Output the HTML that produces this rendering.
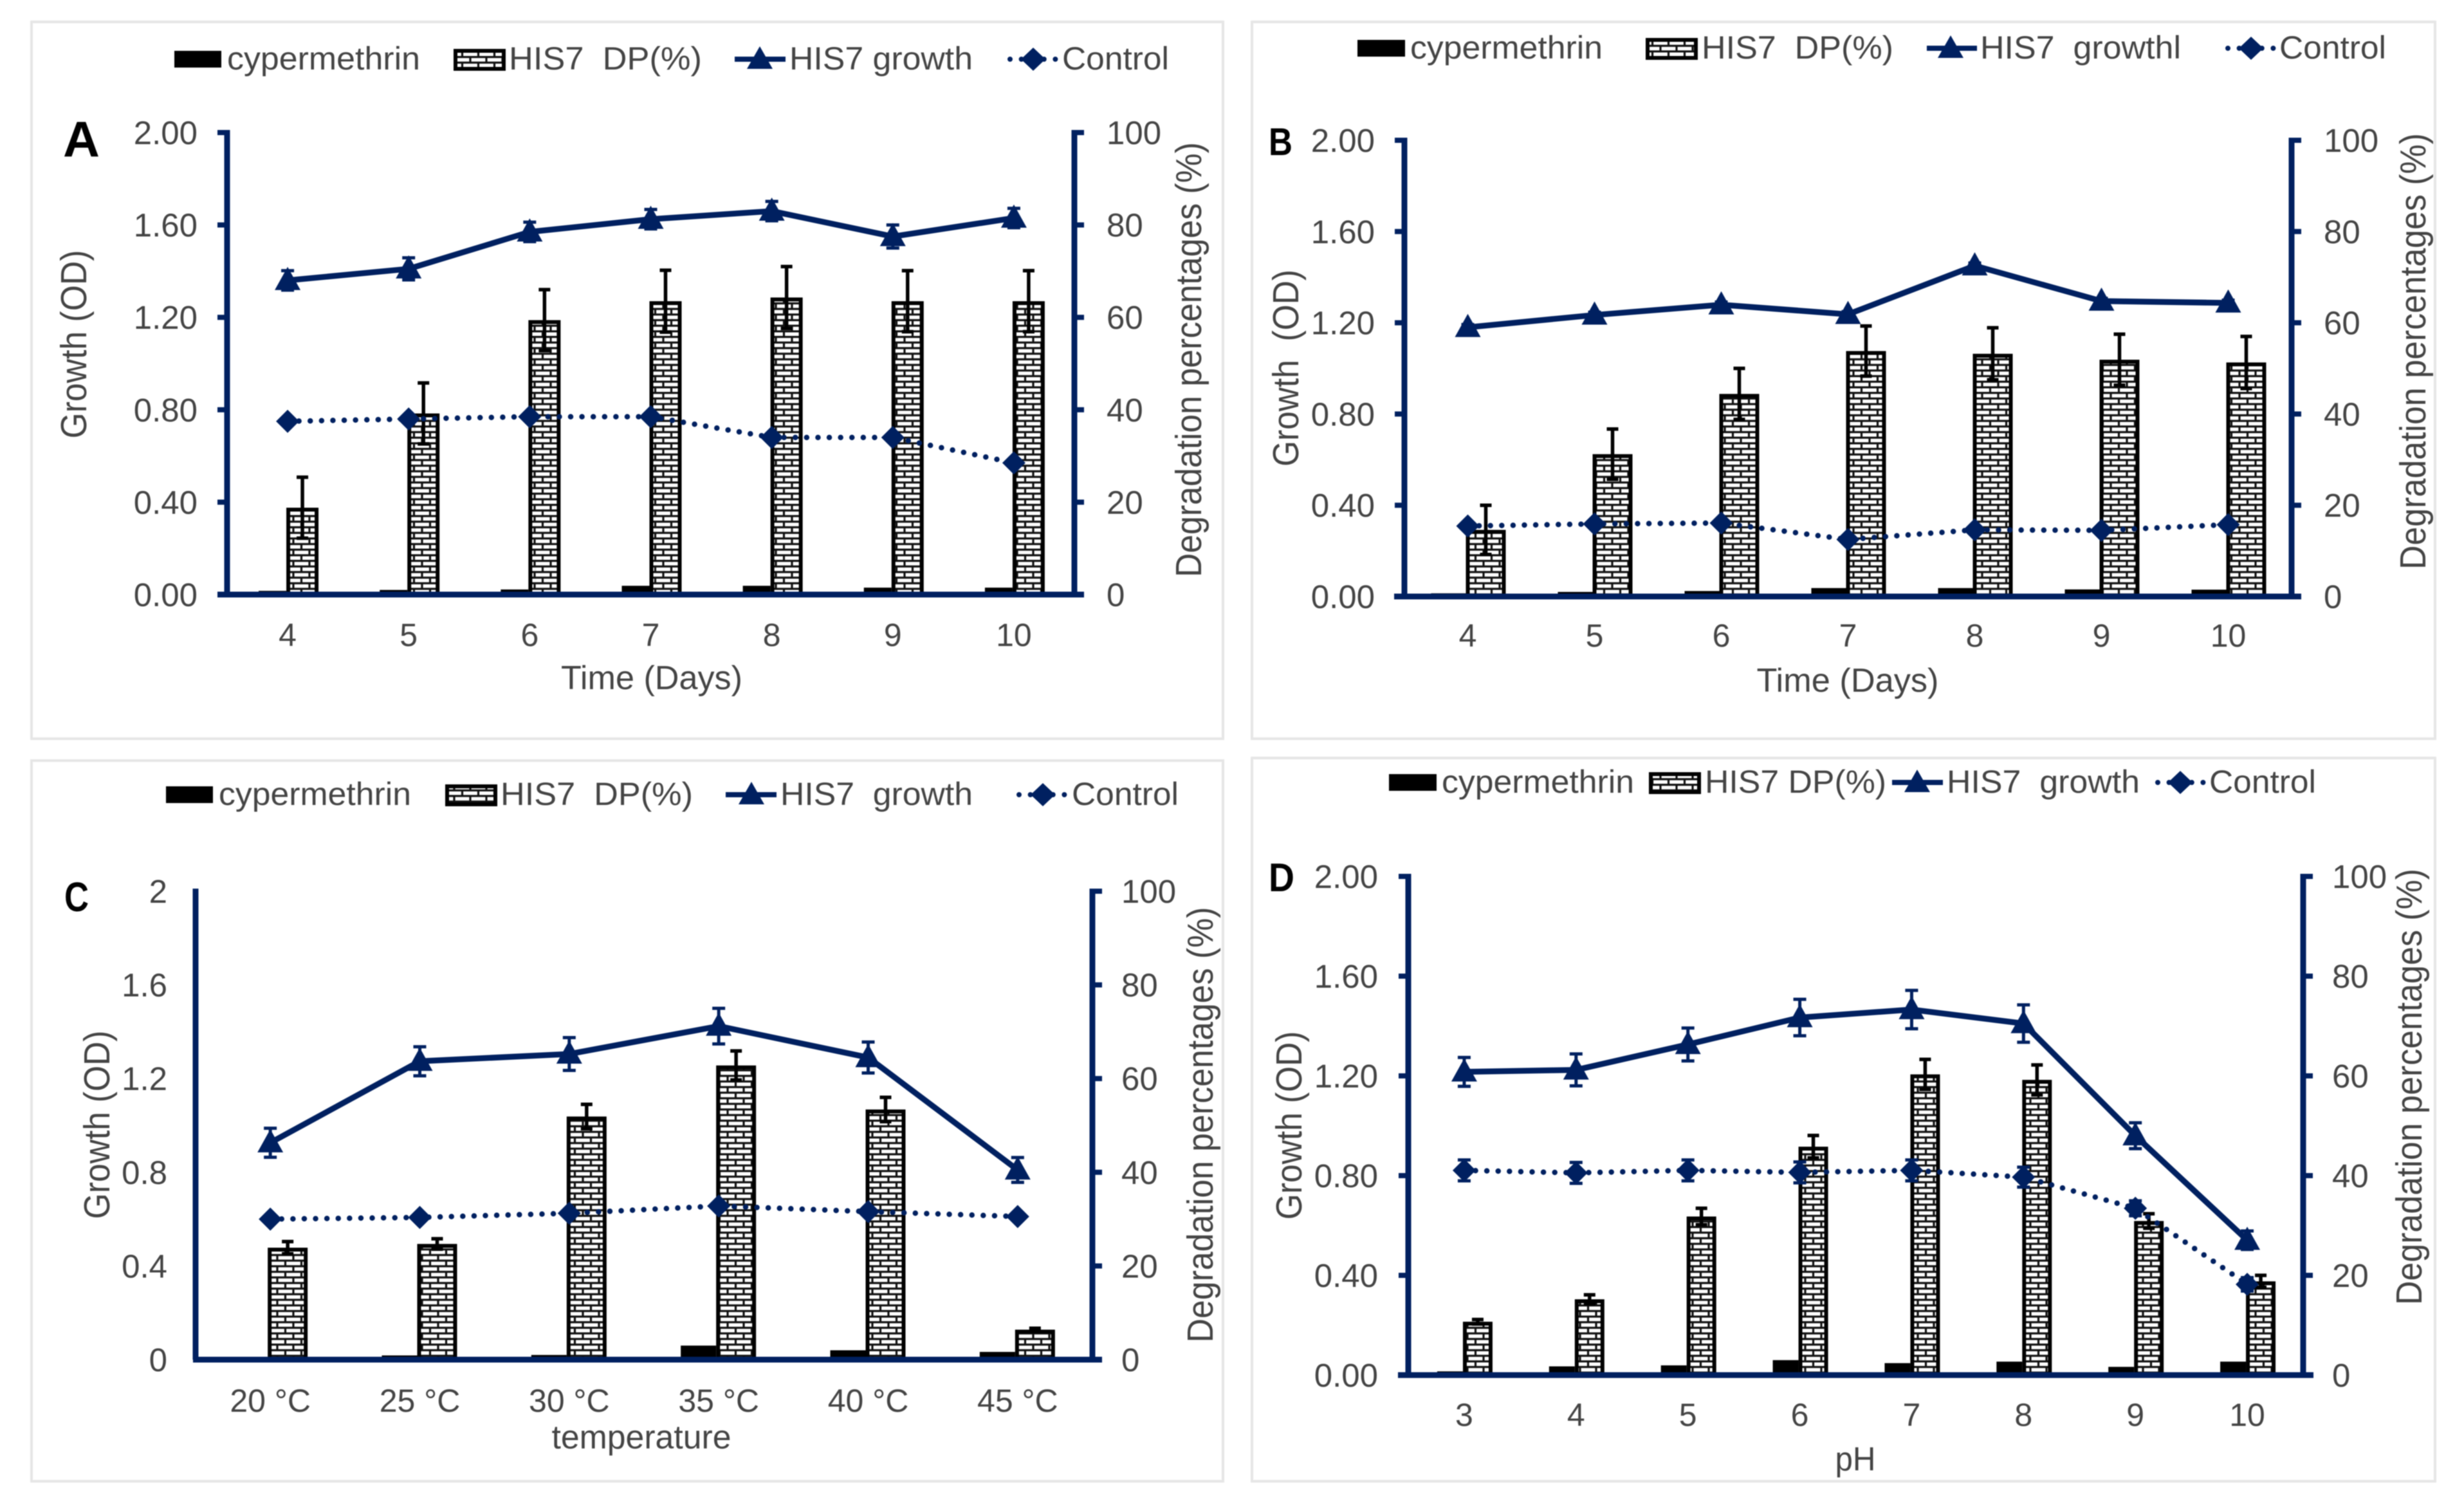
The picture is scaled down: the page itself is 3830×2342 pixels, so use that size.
<!DOCTYPE html>
<html lang="en">
<head>
<meta charset="utf-8">
<title>HIS7 cypermethrin degradation charts</title>
<style>
html,body{margin:0;padding:0;background:#fff;}
svg{display:block;filter:blur(0.8px);}
text{font-family:"Liberation Sans",sans-serif;fill:#444;white-space:pre;}
.leg{font-size:50px;}
.ttl{font-size:52px;}
.tck{font-size:51px;}
.cat{font-size:50px;text-anchor:middle;}
.ltr{font-weight:bold;fill:#000;}
</style>
</head>
<body>
<svg id="figure" xmlns="http://www.w3.org/2000/svg" width="3830" height="2342" viewBox="0 0 3830 2342">
<defs>
<pattern id="brick" width="25" height="17.4" patternUnits="userSpaceOnUse">
<rect width="25" height="17.4" fill="#fff"/>
<path d="M0 1.6H25M0 10.3H25M6 1.6V10.3M18.5 10.3V19" stroke="#111" stroke-width="3.2" fill="none"/>
</pattern>
</defs>
<rect width="3830" height="2342" fill="#fff"/>

<g id="panel-a">
<rect x="49" y="34" width="1852" height="1114" fill="#fff" stroke="#e6e6e6" stroke-width="4"/>
<text class="ltr" x="98" y="243" font-size="78" textLength="57" lengthAdjust="spacingAndGlyphs">A</text>
<g>
<rect x="271" y="79" width="73" height="26" fill="#000"/>
<text class="leg" x="353" y="108" textLength="300" lengthAdjust="spacingAndGlyphs">cypermethrin</text>
<rect x="708" y="79" width="75" height="28" fill="url(#brick)" stroke="#000" stroke-width="6"/>
<text class="leg" x="791" y="108" textLength="300" lengthAdjust="spacingAndGlyphs">HIS7  DP(%)</text>
<line x1="1142" y1="92" x2="1221" y2="92" stroke="#002060" stroke-width="8"/>
<polygon points="1181,72 1201,107 1161,107" fill="#002060"/>
<text class="leg" x="1227" y="108" textLength="285" lengthAdjust="spacingAndGlyphs">HIS7 growth</text>
<line x1="1570" y1="92" x2="1646" y2="92" stroke="#002060" stroke-width="8" stroke-linecap="round" stroke-dasharray="0 17.6"/>
<polygon points="1606,74 1625,92 1606,110 1587,92" fill="#002060"/>
<text class="leg" x="1651" y="108" textLength="166" lengthAdjust="spacingAndGlyphs">Control</text>
</g>
<text class="ttl" transform="translate(134,535) rotate(-90) scale(1,1.08)" text-anchor="middle" textLength="293" lengthAdjust="spacingAndGlyphs">Growth (OD)</text>
<text class="ttl" transform="translate(1867,559) rotate(-90) scale(1,1.08)" text-anchor="middle" textLength="676" lengthAdjust="spacingAndGlyphs">Degradation percentages (%)</text>
<text class="ttl" x="1013" y="1071" text-anchor="middle" textLength="282" lengthAdjust="spacingAndGlyphs">Time (Days)</text>
</g>

<g id="panel-b">
<rect x="1946" y="34" width="1839" height="1114" fill="#fff" stroke="#e6e6e6" stroke-width="4"/>
<text class="ltr" x="1972" y="241" font-size="60" textLength="37" lengthAdjust="spacingAndGlyphs">B</text>
<g>
<rect x="2110" y="62" width="74" height="26" fill="#000"/>
<text class="leg" x="2192" y="91" textLength="299" lengthAdjust="spacingAndGlyphs">cypermethrin</text>
<rect x="2561" y="62" width="75" height="28" fill="url(#brick)" stroke="#000" stroke-width="6"/>
<text class="leg" x="2645" y="91" textLength="298" lengthAdjust="spacingAndGlyphs">HIS7  DP(%)</text>
<line x1="2995" y1="75" x2="3073" y2="75" stroke="#002060" stroke-width="8"/>
<polygon points="3032,55 3052,90 3012,90" fill="#002060"/>
<text class="leg" x="3078" y="91" textLength="312" lengthAdjust="spacingAndGlyphs">HIS7  growthl</text>
<line x1="3463" y1="75" x2="3539" y2="75" stroke="#002060" stroke-width="8" stroke-linecap="round" stroke-dasharray="0 17.6"/>
<polygon points="3499,57 3518,75 3499,93 3480,75" fill="#002060"/>
<text class="leg" x="3543" y="91" textLength="166" lengthAdjust="spacingAndGlyphs">Control</text>
</g>
<text class="ttl" transform="translate(2018,572) rotate(-90) scale(1,1.08)" text-anchor="middle" textLength="306" lengthAdjust="spacingAndGlyphs">Growth  (OD)</text>
<text class="ttl" transform="translate(3770,546) rotate(-90) scale(1,1.08)" text-anchor="middle" textLength="678" lengthAdjust="spacingAndGlyphs">Degradation percentages (%)</text>
<text class="ttl" x="2872" y="1075" text-anchor="middle" textLength="283" lengthAdjust="spacingAndGlyphs">Time (Days)</text>
</g>

<g id="panel-c">
<rect x="49" y="1182" width="1852" height="1120" fill="#fff" stroke="#e6e6e6" stroke-width="4"/>
<text class="ltr" x="100" y="1416" font-size="64" textLength="38" lengthAdjust="spacingAndGlyphs">C</text>
<g>
<rect x="258" y="1222" width="73" height="26" fill="#000"/>
<text class="leg" x="340" y="1251" textLength="299" lengthAdjust="spacingAndGlyphs">cypermethrin</text>
<rect x="695" y="1222" width="75" height="28" fill="url(#brick)" stroke="#000" stroke-width="6"/>
<text class="leg" x="778" y="1251" textLength="299" lengthAdjust="spacingAndGlyphs">HIS7  DP(%)</text>
<line x1="1128" y1="1235" x2="1207" y2="1235" stroke="#002060" stroke-width="8"/>
<polygon points="1168,1215 1188,1250 1148,1250" fill="#002060"/>
<text class="leg" x="1213" y="1251" textLength="299" lengthAdjust="spacingAndGlyphs">HIS7  growth</text>
<line x1="1584" y1="1235" x2="1661" y2="1235" stroke="#002060" stroke-width="8" stroke-linecap="round" stroke-dasharray="0 17.6"/>
<polygon points="1621,1217 1640,1235 1621,1253 1602,1235" fill="#002060"/>
<text class="leg" x="1666" y="1251" textLength="166" lengthAdjust="spacingAndGlyphs">Control</text>
</g>
<text class="ttl" transform="translate(170,1748) rotate(-90) scale(1,1.08)" text-anchor="middle" textLength="293" lengthAdjust="spacingAndGlyphs">Growth (OD)</text>
<text class="ttl" transform="translate(1885,1748) rotate(-90) scale(1,1.08)" text-anchor="middle" textLength="677" lengthAdjust="spacingAndGlyphs">Degradation percentages (%)</text>
<text class="ttl" x="997" y="2251" text-anchor="middle" textLength="279" lengthAdjust="spacingAndGlyphs">temperature</text>
</g>

<g id="panel-d">
<rect x="1946" y="1178" width="1839" height="1124" fill="#fff" stroke="#e6e6e6" stroke-width="4"/>
<text class="ltr" x="1972" y="1385" font-size="62" textLength="40" lengthAdjust="spacingAndGlyphs">D</text>
<g>
<rect x="2159" y="1203" width="74" height="26" fill="#000"/>
<text class="leg" x="2241" y="1232" textLength="299" lengthAdjust="spacingAndGlyphs">cypermethrin</text>
<rect x="2566" y="1203" width="75" height="28" fill="url(#brick)" stroke="#000" stroke-width="6"/>
<text class="leg" x="2650" y="1232" textLength="282" lengthAdjust="spacingAndGlyphs">HIS7 DP(%)</text>
<line x1="2941" y1="1216" x2="3020" y2="1216" stroke="#002060" stroke-width="8"/>
<polygon points="2980,1196 3000,1231 2960,1231" fill="#002060"/>
<text class="leg" x="3026" y="1232" textLength="300" lengthAdjust="spacingAndGlyphs">HIS7  growth</text>
<line x1="3354" y1="1216" x2="3429" y2="1216" stroke="#002060" stroke-width="8" stroke-linecap="round" stroke-dasharray="0 17.6"/>
<polygon points="3389,1198 3408,1216 3389,1234 3370,1216" fill="#002060"/>
<text class="leg" x="3434" y="1232" textLength="166" lengthAdjust="spacingAndGlyphs">Control</text>
</g>
<text class="ttl" transform="translate(2023,1749) rotate(-90) scale(1,1.08)" text-anchor="middle" textLength="293" lengthAdjust="spacingAndGlyphs">Growth (OD)</text>
<text class="ttl" transform="translate(3764,1689) rotate(-90) scale(1,1.08)" text-anchor="middle" textLength="678" lengthAdjust="spacingAndGlyphs">Degradation percentages (%)</text>
<text class="ttl" x="2884" y="2285" text-anchor="middle" textLength="63" lengthAdjust="spacingAndGlyphs">pH</text>
</g>
</svg>

<script>
// ---- Panel A data ----
const aCategories = ['4','5','6','7','8','9','10'];
const aLeftTicks = ['0.00','0.40','0.80','1.20','1.60','2.00'];
const aRightTicks = ['0','20','40','60','80','100'];
const aCypermethrin = [0.8,1.0,1.1,1.9,1.9,1.5,1.5];
const aDegradation = [18.8,39.2,59.4,63.5,64.3,63.5,63.5];
const aDegradationErr = [6.6,6.6,6.6,6.7,6.7,6.6,6.6];
const aGrowth = [1.36,1.41,1.57,1.625,1.66,1.55,1.63];
const aGrowthErr = [0.042,0.048,0.042,0.042,0.042,0.05,0.042];
const aControl = [0.75,0.76,0.77,0.77,0.68,0.68,0.57];
const aControlErr = [];

// ---- Panel B data ----
const bCategories = ['4','5','6','7','8','9','10'];
const bLeftTicks = ['0.00','0.40','0.80','1.20','1.60','2.00'];
const bRightTicks = ['0','20','40','60','80','100'];
const bCypermethrin = [0.7,1.0,1.2,1.85,1.85,1.55,1.5];
const bDegradation = [14.6,31.2,44.4,53.8,53.2,51.9,51.3];
const bDegradationErr = [5.4,5.5,5.6,5.5,5.7,5.6,5.7];
const bGrowth = [1.18,1.234,1.279,1.237,1.45,1.295,1.287];
const bGrowthErr = [0.012,0.012,0.012,0.012,0.012,0.012,0.012];
const bControl = [0.309,0.318,0.322,0.25,0.292,0.29,0.315];
const bControlErr = [];

// ---- Panel C data ----
const cCategories = ['20 °C','25 °C','30 °C','35 °C','40 °C','45 °C'];
const cLeftTicks = ['0','0.4','0.8','1.2','1.6','2'];
const cRightTicks = ['0','20','40','60','80','100'];
const cCypermethrin = [0.6,0.9,1.0,3.0,2.0,1.65];
const cDegradation = [23.9,24.7,51.9,62.8,53.4,6.4];
const cDegradationErr = [1.3,1.1,2.6,3.1,2.6,0.3];
const cGrowth = [0.926,1.274,1.305,1.424,1.29,0.81];
const cGrowthErr = [0.062,0.062,0.07,0.076,0.066,0.053];
const cControl = [0.60,0.607,0.625,0.656,0.632,0.611];
const cControlErr = [];

// ---- Panel D data ----
const dCategories = ['3','4','5','6','7','8','9','10'];
const dLeftTicks = ['0.00','0.40','0.80','1.20','1.60','2.00'];
const dRightTicks = ['0','20','40','60','80','100'];
const dCypermethrin = [0.75,1.75,1.95,3.0,2.4,2.7,1.65,2.7];
const dDegradation = [10.7,15.2,31.8,45.8,60.3,59.2,30.9,18.8];
const dDegradationErr = [0.45,0.9,1.65,2.25,3.0,3.0,1.45,1.2];
const dGrowth = [1.216,1.224,1.326,1.434,1.466,1.41,0.96,0.541];
const dGrowthErr = [0.058,0.064,0.066,0.073,0.077,0.075,0.052,0.037];
const dControl = [0.821,0.811,0.821,0.813,0.821,0.794,0.669,0.364];
const dControlErr = [0.042,0.042,0.042,0.042,0.042,0.04,0.03,0.027];

// ---- Axis ranges ----
const leftAxisMax = 2;
const rightAxisMax = 100;

// ---- Layout (geometry only, no data) ----
const layoutA = {id:'panel-a',x0:353,x1:1670,yTop:206,yBot:924,barW:50,barOff:-2,blackW:43,hL:338,hR:1685,lblL:307,lblR:1720,catBase:1004,leftTickMarks:true};
const layoutB = {id:'panel-b',x0:2183,x1:3562,yTop:218,yBot:927,barW:62,barOff:-3,blackW:54,hL:2167,hR:3577,lblL:2137,lblR:3612,catBase:1005,leftTickMarks:true};
const layoutC = {id:'panel-c',x0:304,x1:1698,yTop:1385,yBot:2113,barW:62,barOff:-4,blackW:55,hL:300,hR:1713,lblL:260,lblR:1743,catBase:2194,leftTickMarks:false};
const layoutD = {id:'panel-d',x0:2189,x1:3580,yTop:1362,yBot:2137,barW:46,barOff:-2,blackW:40,hL:2173,hR:3596,lblL:2142,lblR:3625,catBase:2216,leftTickMarks:true};

const SVG_NS = 'http://www.w3.org/2000/svg';
const NAVY = '#002060';

function mk(parent, tag, geometry) {
  const el = document.createElementNS(SVG_NS, tag);
  for (const k in geometry) el.setAttribute(k, geometry[k]);
  parent.appendChild(el);
  return el;
}

function drawPanel(L, categories, leftTicks, rightTicks, cyper, degr, degrErr, growth, growthErr, control, controlErr) {
  const root = document.getElementById(L.id);
  const n = categories.length;
  const xBand = i => L.x0 + (L.x1 - L.x0) * (i + 0.5) / n;
  const yLeft = v => L.yBot - (v / leftAxisMax) * (L.yBot - L.yTop);
  const yRight = v => L.yBot - (v / rightAxisMax) * (L.yBot - L.yTop);

  // bars
  categories.forEach((cat, i) => {
    const c = xBand(i);
    const black = mk(root, 'rect', {x: c + L.barOff - L.blackW, y: yRight(cyper[i]), width: L.blackW, height: L.yBot - yRight(cyper[i]), fill: '#000'});
    
    
    const bar = mk(root, 'rect', {x: c + L.barOff + 3, y: yRight(degr[i]) + 3, width: L.barW - 6, height: L.yBot - yRight(degr[i]) - 3, fill: 'url(#brick)', stroke: '#000', 'stroke-width': 6});
    
    
    const ex = c + L.barOff + L.barW / 2;
    const up = yRight(degr[i] + degrErr[i]);
    const lo = yRight(degr[i] - degrErr[i]);
    const err = mk(root, 'path', {d: `M${ex} ${up}V${lo}M${ex - 9} ${up}H${ex + 9}M${ex - 9} ${lo}H${ex + 9}`, stroke: '#000', 'stroke-width': 5.5, fill: 'none'});
    
    
  });

  // axes
  const axL = mk(root, 'line', {x1: L.x0, y1: L.yTop - 4, x2: L.x0, y2: L.yBot, stroke: NAVY, 'stroke-width': 9});
  
  
  const axR = mk(root, 'line', {x1: L.x1, y1: L.yTop - 4, x2: L.x1, y2: L.yBot, stroke: NAVY, 'stroke-width': 9});
  
  
  const axB = mk(root, 'line', {x1: L.hL, y1: L.yBot, x2: L.hR, y2: L.yBot, stroke: NAVY, 'stroke-width': 9});
  
  

  // left ticks
  leftTicks.forEach(label => {
    const y = yLeft(parseFloat(label));
    if (L.leftTickMarks) {
      const t = mk(root, 'line', {x1: L.x0 - 15, y1: y, x2: L.x0, y2: y, stroke: NAVY, 'stroke-width': 8});
      
      
    }
    const txt = mk(root, 'text', {x: L.lblL, y: y + 18, 'text-anchor': 'end', class: 'tck'});
    
    
    txt.textContent = label;
  });

  // right ticks
  rightTicks.forEach(label => {
    const y = yRight(parseFloat(label));
    const t = mk(root, 'line', {x1: L.x1, y1: y, x2: L.x1 + 15, y2: y, stroke: NAVY, 'stroke-width': 8});
    
    
    const txt = mk(root, 'text', {x: L.lblR, y: y + 18, class: 'tck'});
    
    
    txt.textContent = label;
  });

  // category labels
  categories.forEach((cat, i) => {
    const txt = mk(root, 'text', {x: xBand(i), y: L.catBase, class: 'cat'});
    
    
    txt.textContent = cat;
  });

  // control error bars
  controlErr.forEach((e, i) => {
    const x = xBand(i);
    const up = yLeft(control[i] + e);
    const lo = yLeft(control[i] - e);
    const err = mk(root, 'path', {d: `M${x} ${up}V${lo}M${x - 10} ${up}H${x + 10}M${x - 10} ${lo}H${x + 10}`, stroke: NAVY, 'stroke-width': 5, fill: 'none'});
    
    
  });

  // control line
  const ctlPts = control.map((v, i) => xBand(i) + ',' + yLeft(v)).join(' ');
  const ctlLine = mk(root, 'polyline', {points: ctlPts, fill: 'none', stroke: NAVY, 'stroke-width': 8.5, 'stroke-linecap': 'round', 'stroke-dasharray': '0 17.6'});
  
  
  control.forEach((v, i) => {
    const x = xBand(i), y = yLeft(v);
    const m = mk(root, 'polygon', {points: `${x},${y - 18} ${x + 18},${y} ${x},${y + 18} ${x - 18},${y}`, fill: NAVY});
    
    
  });

  // growth error bars
  growthErr.forEach((e, i) => {
    const x = xBand(i);
    const up = yLeft(growth[i] + e);
    const lo = yLeft(growth[i] - e);
    const err = mk(root, 'path', {d: `M${x} ${up}V${lo}M${x - 10} ${up}H${x + 10}M${x - 10} ${lo}H${x + 10}`, stroke: NAVY, 'stroke-width': 5, fill: 'none'});
    
    
  });

  // growth line
  const grPts = growth.map((v, i) => xBand(i) + ',' + yLeft(v)).join(' ');
  const grLine = mk(root, 'polyline', {points: grPts, fill: 'none', stroke: NAVY, 'stroke-width': 9, 'stroke-linejoin': 'round'});
  
  
  growth.forEach((v, i) => {
    const x = xBand(i), y = yLeft(v);
    const m = mk(root, 'polygon', {points: `${x},${y - 21} ${x + 20},${y + 15} ${x - 20},${y + 15}`, fill: NAVY});
    
    
  });
}

drawPanel(layoutA, aCategories, aLeftTicks, aRightTicks, aCypermethrin, aDegradation, aDegradationErr, aGrowth, aGrowthErr, aControl, aControlErr);
drawPanel(layoutB, bCategories, bLeftTicks, bRightTicks, bCypermethrin, bDegradation, bDegradationErr, bGrowth, bGrowthErr, bControl, bControlErr);
drawPanel(layoutC, cCategories, cLeftTicks, cRightTicks, cCypermethrin, cDegradation, cDegradationErr, cGrowth, cGrowthErr, cControl, cControlErr);
drawPanel(layoutD, dCategories, dLeftTicks, dRightTicks, dCypermethrin, dDegradation, dDegradationErr, dGrowth, dGrowthErr, dControl, dControlErr);
</script>
</body>
</html>
